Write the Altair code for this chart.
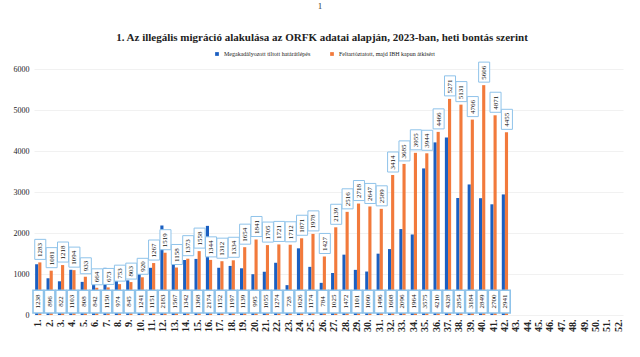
import altair as alt
import pandas as pd

weeks = [f"{i}." for i in range(1, 53)]
blue_vals = [1238, 896, 822, 1103, 808, 842, 1150, 974, 845, 1241, 1151, 2183, 1567, 1342,
             1368, 2174, 1152, 1197, 1139, 995, 1055, 1274, 728, 1626, 1174, 784, 1025, 1472,
             1101, 1060, 1496, 1608, 2096, 1964, 3575, 4210, 4328, 2854, 3184, 2849, 2700, 2941]
orange_vals = [1283, 1081, 1218, 1094, 933, 664, 673, 753, 803, 920, 1267, 1519, 1158, 1373,
               1558, 1344, 1312, 1334, 1654, 1841, 1705, 1721, 1712, 1871, 1978, 1427, 2139,
               2516, 2718, 2647, 2589, 3414, 3685, 3955, 3944, 4466, 5271, 5131, 4766, 5606,
               4871, 4455]
series_names = ["Megakadályozott tiltott határátlépés", "Feltartóztatott, majd IBH kapun átkísért"]
title_text = "1. Az illegális migráció alakulása az ORFK adatai alapján, 2023-ban, heti bontás szerint"

rows = []
for i, v in enumerate(blue_vals):
    rows.append({"week": weeks[i], "series": series_names[0], "value": v, "label": str(v)})
for i, v in enumerate(orange_vals):
    rows.append({"week": weeks[i], "series": series_names[1], "value": v, "label": str(v)})
df = pd.DataFrame(rows)

BLUE = "#1b5fc1"
ORANGE = "#f27a3c"
BOX = "#8fc3ea"
SERIF = "Liberation Serif"

W, H = 589, 246

xscale = alt.Scale(domain=weeks, paddingInner=0.45, paddingOuter=0.1)
x_enc = alt.X("week:N", scale=xscale, sort=weeks,
              axis=alt.Axis(title=None, labelAngle=270, labelAlign="right", labelBaseline="middle",
                            labelFont=SERIF, labelFontWeight="bold", labelFontSize=10,
                            labelColor="#222", labelPadding=4, ticks=False, domain=False))
y_enc = alt.Y("value:Q", scale=alt.Scale(domain=[0, 6000]),
              axis=alt.Axis(title=None, values=[0, 1000, 2000, 3000, 4000, 5000, 6000], format="d",
                            labelFont=SERIF, labelFontSize=8, labelColor="#222", labelPadding=5,
                            ticks=False, domain=False, gridColor="#eeeeee", gridWidth=0.8))

base = alt.Chart(df)

bars = base.mark_bar().encode(
    x=x_enc,
    xOffset=alt.XOffset("series:N", sort=series_names, scale=alt.Scale(domain=series_names, paddingInner=0.0)),
    y=y_enc,
    color=alt.Color("series:N", sort=series_names,
                    scale=alt.Scale(domain=series_names, range=[BLUE, ORANGE]),
                    legend=alt.Legend(title=None, orient="none", legendX=180, legendY=-18,
                                      direction="horizontal", symbolType="square", symbolSize=14,
                                      labelFont=SERIF, labelFontSize=6, labelColor="#222",
                                      columnPadding=18, symbolStrokeWidth=0)),
)

# custom symbol paths: with size 576 one path unit is 12 px
path4 = "M-0.46,0L0.46,0L0.46,-1.67L-0.46,-1.67Z"
path3 = "M-0.46,0L0.46,0L0.46,-1.33L-0.46,-1.33Z"
SZ = 576

orange_df = base.transform_filter(alt.datum.series == series_names[1])
xo = alt.X("week:N", scale=xscale, sort=weeks)

orange_boxes4 = orange_df.transform_filter("length(datum.label) > 3").mark_point(
    filled=True, fill="white", stroke=BOX, strokeWidth=1, opacity=1, fillOpacity=1,
    size=SZ, shape=path4, yOffset=-3, xOffset=2).encode(x=xo, y=alt.Y("value:Q"))
orange_boxes3 = orange_df.transform_filter("length(datum.label) <= 3").mark_point(
    filled=True, fill="white", stroke=BOX, strokeWidth=1, opacity=1, fillOpacity=1,
    size=SZ, shape=path3, yOffset=-3, xOffset=2).encode(x=xo, y=alt.Y("value:Q"))
orange_text = orange_df.mark_text(angle=270, align="left", baseline="middle", font=SERIF,
                                  fontSize=7, color="#111", yOffset=-5.5, xOffset=2).encode(
    x=xo, y=alt.Y("value:Q"), text="label:N")

blue_df = base.transform_filter(alt.datum.series == series_names[0])
blue_boxes = blue_df.mark_point(filled=True, fill="white", stroke=BOX, strokeWidth=1.6,
                                opacity=1, fillOpacity=1, size=SZ,
                                shape="M-0.44,0L0.44,0L0.44,-1.9L-0.44,-1.9Z").encode(
    x=xo, y=alt.value(H - 2))
blue_text = blue_df.mark_text(angle=270, align="center", baseline="middle", font=SERIF,
                              fontSize=7, color="#111").encode(
    x=xo, y=alt.value(H - 13.5), text="label:N")

title_df = pd.DataFrame({"t": [title_text]})
title = alt.Chart(title_df).mark_text(font=SERIF, fontSize=11, fontWeight="bold", color="#222",
                                      align="center", baseline="middle").encode(
    x=alt.value(288), y=alt.value(-31), text="t:N")
page_df = pd.DataFrame({"t": ["1"]})
page = alt.Chart(page_df).mark_text(font=SERIF, fontSize=9, color="#333",
                                    align="center", baseline="middle").encode(
    x=alt.value(286), y=alt.value(-63), text="t:N")

chart = alt.layer(bars, orange_boxes4, orange_boxes3, orange_text, blue_boxes, blue_text,
                  title, page).properties(
    width=W, height=H,
    autosize=alt.AutoSizeParams(type="none"),
    padding={"left": 34, "top": 69, "right": 17, "bottom": 42},
    background="white",
).configure_view(stroke=None)

chart.save("out.html", embed_options={"renderer": "svg", "actions": False})
